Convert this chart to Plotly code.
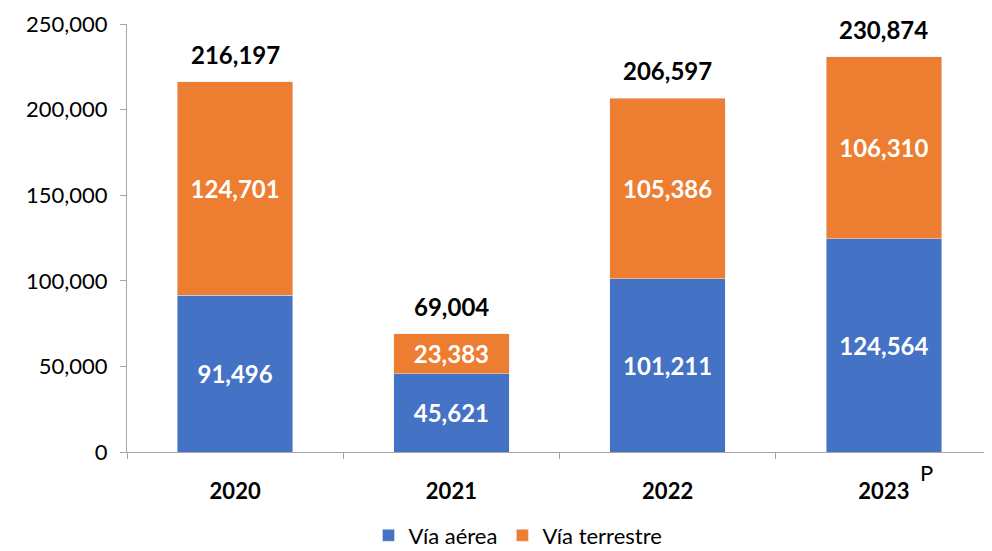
import plotly.graph_objects as go

years = ["2020", "2021", "2022", "2023"]
aerea = [91496, 45621, 101211, 124564]
terrestre = [124701, 23383, 105386, 106310]
totals = [216197, 69004, 206597, 230874]
tickvals = [0, 50000, 100000, 150000, 200000, 250000]

FONT = "Lato"
FS = 22
FB = 24

fig = go.Figure()
fig.add_trace(go.Bar(
    x=years, y=aerea, name="Vía aérea", marker_color="#4472C4",
    text=[f"{v:,}" for v in aerea], textposition="inside", insidetextanchor="middle",
    textfont=dict(color="white", size=FB, family=FONT, weight="bold"), width=0.535,
))
fig.add_trace(go.Bar(
    x=years, y=terrestre, name="Vía terrestre", marker_color="#ED7D31",
    text=[f"{v:,}" for v in terrestre], textposition="inside", insidetextanchor="middle",
    textfont=dict(color="white", size=FB, family=FONT, weight="bold"), width=0.535,
))

for i, t in enumerate(totals):
    fig.add_annotation(x=i, y=t, xref="x", yref="y", text=f"<b>{t:,}</b>", showarrow=False,
                       yanchor="bottom", yshift=11,
                       font=dict(size=FB, color="black", family=FONT))

fig.add_annotation(x=len(years) - 1, y=0, xref="x", yref="y", text="P", showarrow=False,
                   xshift=43, yshift=-20, yanchor="middle",
                   font=dict(size=FS, color="black", family=FONT))

fig.update_layout(
    barmode="stack", width=984, height=543,
    margin=dict(l=119, r=0, t=16, b=99, autoexpand=False),
    plot_bgcolor="white", paper_bgcolor="white",
    font=dict(family=FONT, size=FS, color="black"),
    showlegend=True,
    legend=dict(orientation="h", x=0.452, xanchor="center", y=-0.195, yanchor="middle",
                font=dict(size=FS, family=FONT), traceorder="normal"),
)
fig.update_xaxes(
    type="category", range=[-0.5, 3.5], showline=True, linecolor="#A6A6A6", linewidth=1,
    ticks="outside", tickson="boundaries", ticklen=6, tickcolor="#A6A6A6",
    tickfont=dict(size=FS, family=FONT, weight="bold"), showgrid=False,
    automargin=False, ticklabelstandoff=20,
)
fig.update_yaxes(
    range=[0, 250000], tickvals=tickvals, ticktext=[f"{v:,}" for v in tickvals],
    showline=True, linecolor="#A6A6A6", linewidth=1, ticks="outside", ticklen=6,
    tickcolor="#A6A6A6", showgrid=False, zeroline=False, automargin=False,
    tickfont=dict(size=FS, family=FONT), ticklabelstandoff=8,
)

fig.write_html("out.html")
